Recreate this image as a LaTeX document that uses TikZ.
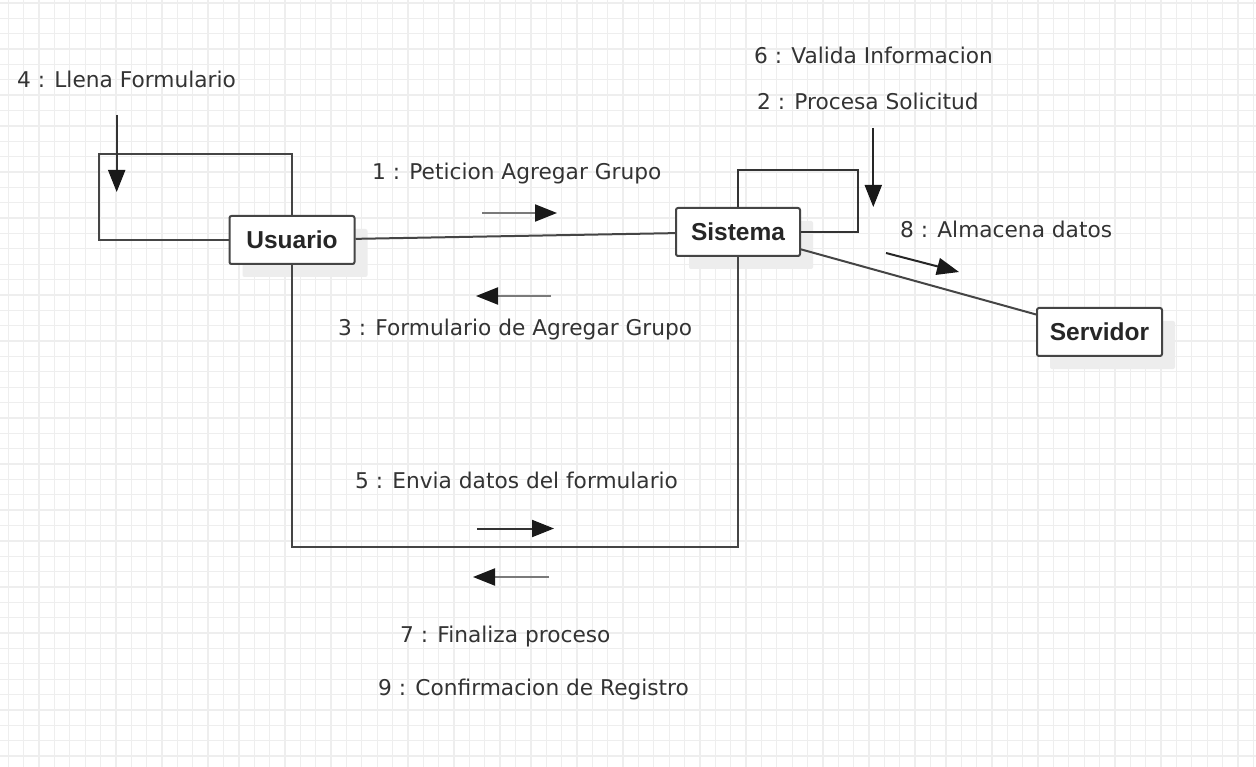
\documentclass[tikz,border=0pt]{standalone}
\usepackage{fontspec}
\usetikzlibrary{arrows.meta,shadows}
\newfontfamily\lblfont{DejaVu Sans}
\newfontfamily\objfont{Liberation Sans}
\definecolor{gridc}{HTML}{EEEEEE}
\definecolor{edgec}{HTML}{454545}
\definecolor{txtc}{HTML}{333333}
\definecolor{msgc}{HTML}{7A7A7A}
\tikzset{
  object/.style={draw=edgec, line width=2pt, fill=white, rounded corners=2pt,
    minimum width=125pt, minimum height=48pt, inner sep=0pt, text=black!85,
    font=\objfont\bfseries\fontsize{24.5}{28}\selectfont,
    drop shadow={shadow xshift=13pt, shadow yshift=-13pt, fill=black!7, opacity=1}},
  link/.style={draw=edgec, line width=2pt},
  msglabel/.style={anchor=base west, inner sep=0pt, text=txtc,
    font=\lblfont\fontsize{21.7}{26}\selectfont},
  msgarrow/.style={line width=2pt, -{Triangle[length=22pt,width=17pt,color=black!90]}},
  gridline/.style={draw=gridc, line width=1.3pt}
}
\begin{document}
\begin{tikzpicture}[x=1pt, y=-1pt]
  \useasboundingbox (0,0) rectangle (1256,767);
  \fill[white] (0,0) rectangle (1256,767);
  % background grid
  \foreach \i in {0,...,81} {
    \draw[gridline] ({8.3+\i*15.37},0) -- ({8.3+\i*15.37},767);
  }
  \foreach \j in {0,...,49} {
    \draw[gridline] (0,{2.9+\j*15.37}) -- (1256,{2.9+\j*15.37});
  }

  % objects
  \node[object] (u) at (292,240) {Usuario};
  \node[object, minimum width=124pt] (s) at (738,232) {Sistema};
  \node[object] (srv) at (1099.5,332) {Servidor};

  % bend points of the links
  \coordinate (uloop) at (99,154);
  \coordinate (sloop) at (858,170);
  \coordinate (bot) at (0,547);

  % links
  \draw[link] (u.west) -| (uloop) -| (u.north);
  \draw[link, line width=2.6pt, draw=black!80] (s.north) |- (sloop) |- (s.east);
  \draw[link] (u) -- (s);
  \draw[link] (s) -- (srv);
  \draw[link] (u.south) |- (s.south |- bot) -- (s.south);

  % message arrows
  \coordinate (m4a) at (116.7,115);  \coordinate (m4b) at (116.7,192);
  \coordinate (m1a) at (482,213);    \coordinate (m1b) at (557,213);
  \coordinate (m3a) at (551,296);    \coordinate (m3b) at (476,296);
  \coordinate (m2a) at (873.3,128);  \coordinate (m2b) at (873.3,207);
  \coordinate (m8a) at (886,253);    \coordinate (m8b) at (959,272);
  \coordinate (m5a) at (477,528.5);  \coordinate (m5b) at (554,528.5);
  \coordinate (m7a) at (549,577);    \coordinate (m7b) at (473,577);

  \draw[msgarrow, draw=black!80] (m4a) -- (m4b);
  \draw[msgarrow, draw=msgc] (m1a) -- (m1b);
  \draw[msgarrow, draw=msgc] (m3a) -- (m3b);
  \draw[msgarrow, draw=black!85] (m2a) -- (m2b);
  \draw[msgarrow, draw=black!85] (m8a) -- (m8b);
  \draw[msgarrow, draw=black!80] (m5a) -- (m5b);
  \draw[msgarrow, draw=msgc] (m7a) -- (m7b);

  % message labels
  \node[msglabel] (l4) at (17,88) {4 : Llena Formulario};
  \node[msglabel] (l6) at (754,64) {6 : Valida Informacion};
  \node[msglabel] (l2) at (757,109.5) {2 : Procesa Solicitud};
  \node[msglabel] (l1) at (372,180) {1 : Peticion Agregar Grupo};
  \node[msglabel] (l8) at (900,238) {8 : Almacena datos};
  \node[msglabel] (l3) at (338,336) {3 : Formulario de Agregar Grupo};
  \node[msglabel] (l5) at (355,488) {5 : Envia datos del formulario};
  \node[msglabel] (l7) at (400,642) {7 : Finaliza proceso};
  \node[msglabel] (l9) at (378,695) {9 : Confirmacion de Registro};
\end{tikzpicture}
\end{document}
